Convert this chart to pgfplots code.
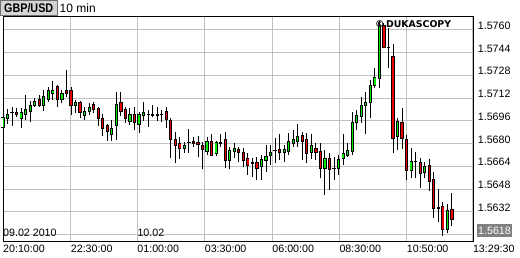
\documentclass[border=0pt]{standalone}
\usepackage{pgfplots}
\pgfplotsset{compat=1.18}
\usepackage{pgfplotstable}
\usepackage{fontspec}
\setmainfont{Liberation Sans}
\newfontfamily\dejavu{DejaVu Sans}
\definecolor{cgreen}{RGB}{0,235,0}
\definecolor{cred}{RGB}{235,0,0}
\definecolor{gridc}{RGB}{192,192,192}
\definecolor{boxfill}{RGB}{212,212,212}
\definecolor{boxline}{RGB}{110,110,110}
\definecolor{pricebox}{RGB}{128,128,128}

\pgfplotstableread{
x o h l c
0 1.56911 1.57016 1.56875 1.56981
1 1.56974 1.57044 1.56939 1.57009
2 1.57023 1.57058 1.56925 1.57023
3 1.57023 1.57051 1.56988 1.57009
4 1.56974 1.57051 1.56911 1.57023
5 1.57009 1.57143 1.56967 1.57044
6 1.57030 1.57100 1.56953 1.57072
7 1.57072 1.57122 1.57058 1.57100
8 1.57114 1.57143 1.57058 1.57072
9 1.57072 1.57178 1.57030 1.57129
10 1.57114 1.57199 1.57093 1.57171
11 1.57150 1.57241 1.57108 1.57171
12 1.57199 1.57213 1.57058 1.57114
13 1.57114 1.57178 1.57086 1.57150
14 1.57171 1.57319 1.57129 1.57150
15 1.57171 1.57199 1.57002 1.57072
16 1.57072 1.57108 1.57016 1.57093
17 1.57091 1.57103 1.56979 1.57021
18 1.56997 1.57060 1.56967 1.57030
19 1.57025 1.57088 1.57002 1.57056
20 1.57079 1.57091 1.57014 1.57042
21 1.57049 1.57060 1.56927 1.56974
22 1.56974 1.57007 1.56854 1.56908
23 1.56925 1.56939 1.56819 1.56885
24 1.56868 1.56967 1.56819 1.56908
25 1.56925 1.57162 1.56826 1.57079
26 1.57091 1.57162 1.56995 1.57025
27 1.57042 1.57060 1.56944 1.56979
28 1.56955 1.57049 1.56932 1.57002
29 1.57002 1.57060 1.56896 1.56951
30 1.56932 1.57025 1.56873 1.57009
31 1.56995 1.57096 1.56962 1.57021
32 1.57002 1.57037 1.56920 1.57009
33 1.56995 1.57072 1.56990 1.57009
34 1.57009 1.57060 1.56960 1.57000
35 1.57007 1.57037 1.56955 1.57007
36 1.57030 1.57060 1.56908 1.56972
37 1.56962 1.56979 1.56697 1.56831
38 1.56831 1.56880 1.56662 1.56786
39 1.56803 1.56845 1.56690 1.56768
40 1.56768 1.56814 1.56737 1.56784
41 1.56810 1.56901 1.56733 1.56810
42 1.56814 1.56849 1.56779 1.56803
43 1.56810 1.56856 1.56704 1.56791
44 1.56784 1.56814 1.56620 1.56761
45 1.56744 1.56849 1.56720 1.56817
46 1.56819 1.56866 1.56713 1.56720
47 1.56733 1.56821 1.56713 1.56807
48 1.56810 1.56866 1.56779 1.56803
49 1.56831 1.56880 1.56627 1.56685
50 1.56685 1.56779 1.56622 1.56749
51 1.56744 1.56803 1.56697 1.56768
52 1.56761 1.56779 1.56673 1.56737
53 1.56740 1.56772 1.56638 1.56685
54 1.56697 1.56733 1.56580 1.56645
55 1.56669 1.56697 1.56568 1.56662
56 1.56669 1.56704 1.56545 1.56627
57 1.56638 1.56720 1.56545 1.56690
58 1.56685 1.56791 1.56603 1.56708
59 1.56715 1.56791 1.56650 1.56737
60 1.56749 1.56838 1.56662 1.56749
61 1.56761 1.56866 1.56685 1.56740
62 1.56740 1.56791 1.56673 1.56761
63 1.56744 1.56873 1.56720 1.56814
64 1.56803 1.56896 1.56779 1.56833
65 1.56814 1.56939 1.56779 1.56854
66 1.56861 1.56880 1.56685 1.56814
67 1.56831 1.56873 1.56662 1.56733
68 1.56740 1.56866 1.56690 1.56784
69 1.56768 1.56803 1.56685 1.56740
70 1.56744 1.56803 1.56557 1.56627
71 1.56627 1.56756 1.56439 1.56697
72 1.56697 1.56733 1.56474 1.56622
73 1.56626 1.56708 1.56545 1.56626
74 1.56627 1.56720 1.56580 1.56690
75 1.56697 1.56866 1.56650 1.56733
76 1.56720 1.56803 1.56708 1.56749
77 1.56744 1.57025 1.56720 1.56951
78 1.56951 1.57037 1.56896 1.56997
79 1.56990 1.57131 1.56944 1.57072
80 1.57072 1.57166 1.56866 1.57091
81 1.57091 1.57248 1.56979 1.57213
82 1.57213 1.57331 1.57190 1.57264
83 1.57260 1.57663 1.57190 1.57635
84 1.57630 1.57647 1.57471 1.57478
85 1.57478 1.57612 1.57331 1.57478
86 1.57412 1.57499 1.56733 1.56838
87 1.56849 1.56983 1.56756 1.56955
88 1.56951 1.57053 1.56763 1.56838
89 1.56831 1.56861 1.56545 1.56615
90 1.56615 1.56768 1.56557 1.56678
91 1.56675 1.56744 1.56557 1.56675
92 1.56669 1.56697 1.56490 1.56592
93 1.56597 1.56673 1.56557 1.56638
94 1.56645 1.56692 1.56467 1.56533
95 1.56550 1.56603 1.56279 1.56341
96 1.56341 1.56481 1.56247 1.56353
97 1.56358 1.56393 1.56153 1.56200
98 1.56200 1.56374 1.56170 1.56329
99 1.56338 1.56451 1.56224 1.56270
}\candles

\begin{document}
\begin{tikzpicture}
\begin{axis}[
  name=ax, at={(0,0)}, anchor=south west,
  scale only axis, width=470bp, height=224bp,
  xmin=0, xmax=103.64, ymin=1.561156, ymax=1.576914,
  axis line style={black, line width=1bp},
  grid=major, major grid style={color=gridc, line width=1bp},
  xtick={0,14.93,29.61,44.47,59.38,74.16,89.02,103.6},
  xticklabels={20:10:00,22:30:00,01:00:00,03:30:00,06:00:00,08:30:00,10:50:00,13:29:30},
  ytick={1.5616,1.5632,1.5648,1.5664,1.5680,1.5696,1.5712,1.5728,1.5744,1.5760},
  yticklabels={,1.5632,1.5648,1.5664,1.5680,1.5696,1.5712,1.5728,1.5744,1.5760},
  yticklabel pos=right,
  major tick length=0pt, tick style={draw=none},
  xticklabel style={anchor=base west, inner sep=0pt, yshift=-11.7bp, font=\fontsize{10.67bp}{12bp}\selectfont},
  yticklabel style={anchor=base west, inner sep=0pt, xshift=4.7bp, yshift=0.6bp, font=\fontsize{10.67bp}{12bp}\selectfont},
]
% wicks
\addplot [draw=none, mark=none,
  error bars/.cd, y dir=plus, y explicit, error mark=none,
  error bar style={draw=black, line width=1bp}]
  table [x=x, y=l, y error plus expr=\thisrow{h}-\thisrow{l}] {\candles};
% body outline
\addplot [draw=none, mark=none,
  error bars/.cd, y dir=plus, y explicit, error mark=none,
  error bar style={draw=black, line width=3.2bp}]
  table [x=x, y=o, y error plus expr=\thisrow{c}-\thisrow{o}] {\candles};
% green bodies
\addplot [draw=none, mark=none,
  error bars/.cd, y dir=plus, y explicit, error mark=none,
  error bar style={draw=cgreen, line width=1.3bp}]
  table [x=x, y=o, y error plus expr={\thisrow{c}>\thisrow{o} ? \thisrow{c}-\thisrow{o} : 0}] {\candles};
% red bodies
\addplot [draw=none, mark=none,
  error bars/.cd, y dir=plus, y explicit, error mark=none,
  error bar style={draw=cred, line width=1.3bp}]
  table [x=x, y=o, y error plus expr={\thisrow{c}<\thisrow{o} ? \thisrow{c}-\thisrow{o} : 0}] {\candles};
% body top/bottom edges
\addplot [only marks, mark=-, mark size=1.6bp, mark options={solid, draw=black, line width=1bp}]
  table [x=x, y=o] {\candles};
\addplot [only marks, mark=-, mark size=1.6bp, mark options={solid, draw=black, line width=1bp}]
  table [x=x, y=c] {\candles};
\end{axis}
% date labels inside plot
\node[anchor=base west, inner sep=0pt, font=\fontsize{10.67bp}{12bp}\selectfont] at (0bp,4.6bp) {09.02 2010};
\node[anchor=base west, inner sep=0pt, font=\fontsize{10.67bp}{12bp}\selectfont] at (134.3bp,4.6bp) {10.02};
% copyright
\node[anchor=base west, inner sep=0pt, font=\dejavu\bfseries\fontsize{9.35bp}{11bp}\selectfont] at (372bp,213.7bp) {\textcopyright\,DUKASCOPY};
% current price box
\node[anchor=west, fill=pricebox, text=white, inner xsep=1.3bp, inner ysep=0pt, minimum height=13.3bp,
  font=\fontsize{10.67bp}{12bp}\selectfont] at (473.7bp,10.3bp) {1.5618};
% title
\draw[fill=boxfill, draw=boxline, line width=1bp] (-2.5bp,225.5bp) rectangle (54bp,240.5bp);
\node[anchor=base, inner sep=0pt, font=\bfseries\fontsize{12.5bp}{14bp}\selectfont] at (25.7bp,228.3bp) {\scalebox{0.86}[1]{GBP/USD}};
\node[anchor=base west, inner sep=0pt, font=\fontsize{12bp}{14bp}\selectfont] at (56.5bp,228.3bp) {10 min};
\pgfresetboundingbox
\path (-3bp,-17bp) rectangle (517bp,241bp);
\end{tikzpicture}
\end{document}
